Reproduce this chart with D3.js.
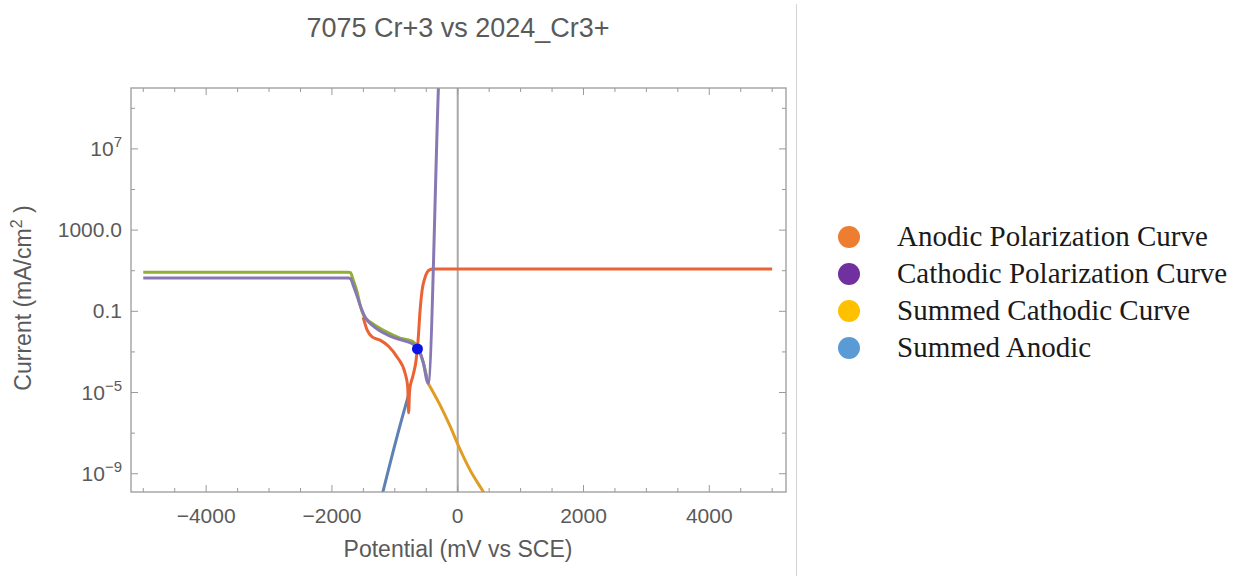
<!DOCTYPE html>
<html>
<head>
<meta charset="utf-8">
<script src="https://cdn.jsdelivr.net/npm/d3@7"></script>
<style>
  body { margin: 0; background: #fff; }
  svg { display: block; }
  .tick-label { font-family: "Liberation Sans", Arial, sans-serif; fill: #5a5a5a; }
  .legend text { font-family: "Liberation Serif", "Times New Roman", serif; fill: #1a1a1a; }
</style>
</head>
<body>
<div class="container"></div>
<script>
(function(){
  const config = {w: 1239, h: 576, left: 131, right: 786, top: 88, bottom: 492};

  // potential (mV vs SCE), current (mA/cm2) pairs
  const summedAnodic = [[-1230, 4e-11], [-950, 1e-7], [-760, 1.3e-5]];
  const summedCathodic = [[-471, 2.9e-5], [-280, 2.4e-6], [-121, 2.2e-7], [6, 2.6e-8],
    [197, 1.5e-9], [420, 1.1e-10], [520, 3e-11]];
  const totalCurve = [[-5000, 8.5], [-1740, 8.5], [-1705, 8.0], [-1662, 3.5], [-1600, 0.9],
    [-1552, 0.2], [-1489, 0.057], [-1361, 0.026], [-1155, 0.0105], [-916, 0.0048],
    [-725, 0.0034], [-630, 0.0015], [-550, 3.2e-4], [-471, 2.9e-5]];
  const anodicCurve = [[-1504, 0.051], [-1439, 0.0118], [-1361, 0.0055], [-1234, 0.0038],
    [-1100, 0.0019], [-962, 5.5e-4], [-837, 9e-5], [-795, 1.9e-5], [-781, 1e-6],
    [-765, 1.3e-5], [-709, 7.2e-5], [-661, 4e-4], [-630, 0.0038], [-598, 0.115],
    [-566, 1.1], [-518, 4.8], [-455, 10.7], [-391, 12], [5000, 12]];
  const cathodicCurve = [[-5000, 4.4], [-1740, 4.4], [-1705, 4.1], [-1662, 1.95], [-1600, 0.56],
    [-1536, 0.145], [-1472, 0.051], [-1345, 0.019], [-1075, 0.006], [-836, 0.0034],
    [-709, 0.0024], [-614, 0.0012], [-550, 3.2e-4], [-471, 2.9e-5], [-307, 1e10], [-298, 6e10]];
  const corrosionPoint = [-640, 0.0014];

  const xMajor = [-4000, -2000, 0, 2000, 4000];
  const xMinor = d3.range(-5000, 5001, 500).filter(v => v % 2000 !== 0);
  const yMajor = [1e-9, 1e-5, 0.1, 1000, 1e7];
  const yMinor = [1e-7, 1e-3, 10, 1e5, 1e9];

  const legendLabels = ['Anodic Polarization Curve', 'Cathodic Polarization Curve',
    'Summed Cathodic Curve', 'Summed Anodic'];
  const legendColors = ['#ED7D31', '#7030A0', '#FFC000', '#5B9BD5'];

  const series = [
    {data: summedAnodic, color: '#5E81B5'},
    {data: summedCathodic, color: '#E19C24'},
    {data: totalCurve, color: '#8FB032'},
    {data: anodicCurve, color: '#EB6235'},
    {data: cathodicCurve, color: '#8778B3'}
  ];

  const svg = d3.select('.container').append('svg')
    .attr('width', config.w)
    .attr('height', config.h);

  const x = d3.scaleLinear()
    .domain([-5195, 5220])
    .range([config.left, config.right]);

  const y = d3.scaleLog()
    .domain([Math.pow(10, -9.9), 1e10])
    .range([config.bottom, config.top]);

  // separator between plot and legend
  svg.append('line')
    .attr('x1', 796.5).attr('x2', 796.5)
    .attr('y1', 4).attr('y2', config.h)
    .attr('stroke', '#d4d4d4')
    .attr('stroke-width', 1);

  svg.append('text')
    .attr('class', 'tick-label')
    .attr('x', 458)
    .attr('y', 37)
    .attr('text-anchor', 'middle')
    .attr('font-size', 27)
    .attr('fill', '#555')
    .text('7075 Cr+3 vs 2024_Cr3+');

  svg.append('clipPath')
    .attr('id', 'plot-clip')
    .append('rect')
      .attr('x', config.left)
      .attr('y', config.top)
      .attr('width', config.right - config.left)
      .attr('height', config.bottom - config.top);

  const plot = svg.append('g').attr('clip-path', 'url(#plot-clip)');

  plot.append('line')
    .attr('x1', x(0)).attr('x2', x(0))
    .attr('y1', config.top).attr('y2', config.bottom)
    .attr('stroke', '#a8a8a8')
    .attr('stroke-width', 2);

  const line = d3.line()
    .x(d => x(d[0]))
    .y(d => y(d[1]))
    .curve(d3.curveMonotoneX);

  plot.selectAll('path.curve')
    .data(series)
    .enter().append('path')
      .attr('class', 'curve')
      .attr('d', d => line(d.data))
      .attr('fill', 'none')
      .attr('stroke', d => d.color)
      .attr('stroke-width', 3)
      .attr('stroke-linejoin', 'round');

  plot.append('circle')
    .attr('cx', x(corrosionPoint[0]))
    .attr('cy', y(corrosionPoint[1]))
    .attr('r', 5.5)
    .attr('fill', '#0a14e6');

  // frame
  const frame = svg.append('g');
  frame.append('rect')
    .attr('x', config.left)
    .attr('y', config.top)
    .attr('width', config.right - config.left)
    .attr('height', config.bottom - config.top)
    .attr('fill', 'none')
    .attr('stroke', '#9a9a9a')
    .attr('stroke-width', 1.3);

  const tickStroke = '#9a9a9a';
  function xTicks(values, len) {
    values.forEach(v => {
      frame.append('line')
        .attr('x1', x(v)).attr('x2', x(v))
        .attr('y1', config.bottom).attr('y2', config.bottom - len)
        .attr('stroke', tickStroke);
      frame.append('line')
        .attr('x1', x(v)).attr('x2', x(v))
        .attr('y1', config.top).attr('y2', config.top + len)
        .attr('stroke', tickStroke);
    });
  }
  function yTicks(values, len) {
    values.forEach(v => {
      frame.append('line')
        .attr('x1', config.left).attr('x2', config.left + len)
        .attr('y1', y(v)).attr('y2', y(v))
        .attr('stroke', tickStroke);
      frame.append('line')
        .attr('x1', config.right).attr('x2', config.right - len)
        .attr('y1', y(v)).attr('y2', y(v))
        .attr('stroke', tickStroke);
    });
  }
  xTicks(xMajor, 7);
  xTicks(xMinor, 4);
  yTicks(yMajor, 7);
  yTicks(yMinor, 4);

  svg.selectAll('text.xtick')
    .data(xMajor)
    .enter().append('text')
      .attr('class', 'tick-label xtick')
      .attr('x', d => x(d))
      .attr('y', 523)
      .attr('text-anchor', 'middle')
      .attr('font-size', 21)
      .text(d => d < 0 ? '\u2212' + Math.abs(d) : d);

  const yLabels = svg.selectAll('text.ytick')
    .data(yMajor)
    .enter().append('text')
      .attr('class', 'tick-label ytick')
      .attr('x', config.left - 9)
      .attr('y', d => y(d) + 7)
      .attr('text-anchor', 'end')
      .attr('font-size', 21);

  yLabels.each(function(d) {
    const t = d3.select(this);
    const e = Math.round(Math.log10(d));
    if (d === 1000) t.text('1000.0');
    else if (d === 0.1) t.text('0.1');
    else {
      t.append('tspan').text('10');
      t.append('tspan')
        .attr('dy', -9)
        .attr('font-size', 15)
        .text(e < 0 ? '\u2212' + Math.abs(e) : e);
    }
  });

  svg.append('text')
    .attr('class', 'tick-label')
    .attr('x', 458)
    .attr('y', 557)
    .attr('text-anchor', 'middle')
    .attr('font-size', 23)
    .text('Potential (mV vs SCE)');

  const yTitle = svg.append('text')
    .attr('class', 'tick-label')
    .attr('transform', 'translate(31,298) rotate(-90)')
    .attr('text-anchor', 'middle')
    .attr('font-size', 23);
  yTitle.append('tspan').text('Current (mA/cm');
  yTitle.append('tspan').attr('dy', -9).attr('font-size', 16).text('2');
  yTitle.append('tspan').attr('dy', 9).text(' )');

  const legend = svg.append('g').attr('class', 'legend');
  const rows = legend.selectAll('g')
    .data(legendLabels)
    .enter().append('g')
      .attr('transform', (d, i) => `translate(849,${237 + i * 37})`);

  rows.append('circle')
    .attr('r', 11)
    .attr('fill', (d, i) => legendColors[i]);

  rows.append('text')
    .attr('x', 48)
    .attr('y', 9)
    .attr('font-size', 29)
    .text(d => d);
})();
</script>
</body>
</html>
